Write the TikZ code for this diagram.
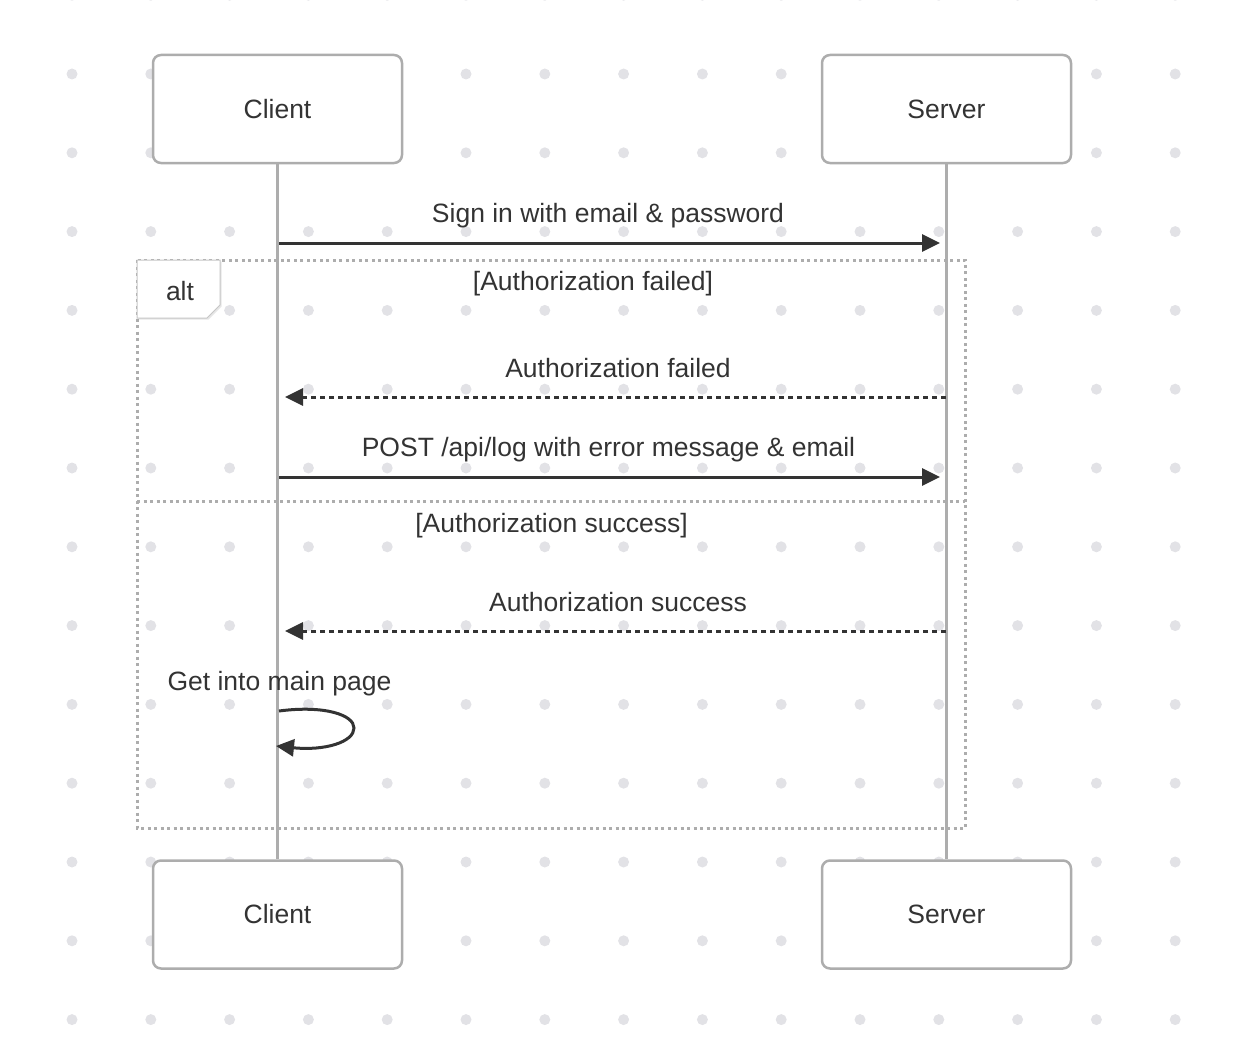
\documentclass[tikz,border=0pt]{standalone}
\usepackage{fontspec}
\setmainfont{Liberation Sans}
\usetikzlibrary{arrows.meta,shadows}
\definecolor{dotc}{HTML}{E2E2E6}
\definecolor{boxc}{HTML}{ADADAD}
\definecolor{inkc}{HTML}{333333}
\begin{document}
\begin{tikzpicture}[x=1pt,y=-1pt,
  actor/.style={draw=boxc,line width=2.5pt,rounded corners=8pt,fill=white,minimum width=249pt,minimum height=108pt,inner sep=0pt,font=\fontsize{26.5}{30}\selectfont,text=inkc},
  lbl/.style={anchor=base,font=\fontsize{26.5}{30}\selectfont,text=inkc,inner sep=0pt},
  life/.style={draw=boxc,line width=3pt},
  msg/.style={draw=inkc,line width=3pt,-{Triangle[length=18pt,width=17pt]}},
  reply/.style={msg,dash pattern=on 5pt off 4pt},
  frame/.style={draw=boxc,line width=3pt,dash pattern=on 3pt off 3.5pt}]
\useasboundingbox (0,0) rectangle (1239,1038);
% dot grid
\foreach \i in {0,...,14}{\foreach \j in {0,...,13}{
  \fill[dotc] ({72+78.8*\i},{-4.8+78.8*\j}) circle (5.5pt);}}
% alt frame
\draw[frame] (137,260) rectangle (965,828);
\draw[frame] (137,501) -- (965,501);
% actors
\node[actor] (ct) at (277.5,109) {Client};
\node[actor] (st) at (946.5,109) {Server};
\node[actor] (cb) at (277.5,914.5) {Client};
\node[actor] (sb) at (946.5,914.5) {Server};
\draw[life] (ct.south) -- (cb.north);
\draw[life] (st.south) -- (sb.north);
% alt label
\path[fill=white,draw=boxc!70,line width=1pt,drop shadow={opacity=0.2,shadow xshift=1.5pt,shadow yshift=-1.5pt}]
  (137,260) -- (220,260) -- (220,305) -- (207,318) -- (137,318) -- cycle;
\node[lbl] (alt) at (180,300) {alt};
% coordinates on lifelines
\coordinate (c1) at (279,243); \coordinate (s1) at (940,243);
\coordinate (s2) at (946,397); \coordinate (c2) at (285,397);
\coordinate (c3) at (279,477); \coordinate (s3) at (940,477);
\coordinate (s4) at (946,631); \coordinate (c4) at (285,631);
\coordinate (c5) at (279,711); \coordinate (c6) at (276,746);
% messages
\node[lbl] (t1) at (608,222) {Sign in with email \& password};
\draw[msg] (c1) -- (s1);
\node[lbl] (g1) at (593,290) {[Authorization failed]};
\node[lbl] (t2) at (618,377) {Authorization failed};
\draw[reply] (s2) -- (c2);
\node[lbl] (t3) at (608.5,456) {POST /api/log with error message \& email};
\draw[msg] (c3) -- (s3);
\node[lbl] (g2) at (551.5,532) {[Authorization success]};
\node[lbl] (t4) at (618,611) {Authorization success};
\draw[reply] (s4) -- (c4);
\node[lbl] (t5) at (279.5,690) {Get into main page};
\draw[draw=inkc,line width=3pt,-{Triangle[length=18pt,width=17pt]}]
  (c5) .. controls (325,705) and (354,715) .. (354,728)
       .. controls (354,742) and (325,751) .. (c6);
\end{tikzpicture}
\end{document}
